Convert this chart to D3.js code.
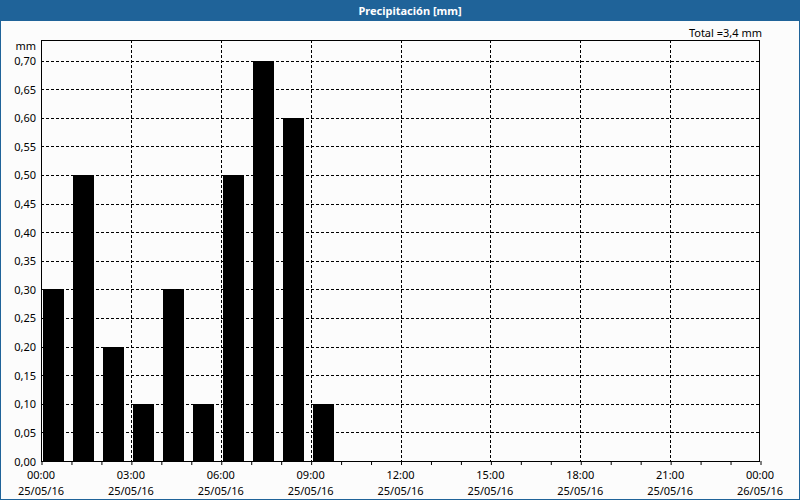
<!DOCTYPE html>
<html>
<head>
<meta charset="utf-8">
<script src="https://cdn.jsdelivr.net/npm/d3@7"></script>
<style>
html,body{margin:0;padding:0;background:#fff;}
svg{display:block;}
text{font-family:"Noto Sans","DejaVu Sans",sans-serif;font-size:11px;fill:#000;}
</style>
</head>
<body>
<script>
const title = "Precipitación [mm]";
const totalLabel = "Total =3,4 mm";
const unitLabel = "mm";
const hours = [0,1,2,3,4,5,6,7,8,9];
const values = [0.3,0.5,0.2,0.1,0.3,0.1,0.5,0.7,0.6,0.1];
const yTicks = [0,0.05,0.10,0.15,0.20,0.25,0.30,0.35,0.40,0.45,0.50,0.55,0.60,0.65,0.70];
const xMajorHours = [0,3,6,9,12,15,18,21,24];
const xTimeLabels = ["00:00","03:00","06:00","09:00","12:00","15:00","18:00","21:00","00:00"];
const xDateLabels = ["25/05/16","25/05/16","25/05/16","25/05/16","25/05/16","25/05/16","25/05/16","25/05/16","26/05/16"];

(function(){
const W = 800, H = 500;
const FONT = "Noto Sans, DejaVu Sans, sans-serif";
const svg = d3.select("body").append("svg").attr("width", W).attr("height", H);

svg.append("rect").attr("x",0).attr("y",0).attr("width",W).attr("height",H).attr("fill","#fcfcfc");
svg.append("rect").attr("x",0.5).attr("y",0.5).attr("width",W-1).attr("height",H-1)
  .attr("fill","none").attr("stroke","#1f6399").attr("stroke-width",1);
svg.append("rect").attr("x",0).attr("y",0).attr("width",W).attr("height",21).attr("fill","#1f6399");
svg.append("text").attr("x",410).attr("y",15).attr("text-anchor","middle")
  .style("font-weight","bold").style("fill","#fff").style("font-size","11px").text(title);

const pl = 41, pr = 760, pt = 40, pb = 461;
const x = d3.scaleLinear().domain([0,24]).range([pl,pr]);
const y = d3.scaleLinear().domain([0,0.70]).range([pb,60.5]);

const g = svg.append("g");

g.selectAll("line.hgrid").data(yTicks.filter(d=>d>0)).join("line")
  .attr("x1",pl).attr("x2",pr)
  .attr("y1",d=>Math.round(y(d))+0.5).attr("y2",d=>Math.round(y(d))+0.5)
  .attr("stroke","#000").attr("stroke-width",1).attr("stroke-dasharray","3,2");
g.selectAll("line.vgrid").data(xMajorHours.filter(d=>d>0 && d<24)).join("line")
  .attr("y1",pt).attr("y2",pb)
  .attr("x1",d=>Math.round(x(d))+0.5).attr("x2",d=>Math.round(x(d))+0.5)
  .attr("stroke","#000").attr("stroke-width",1).attr("stroke-dasharray","3,2");

const hw = x(1)-x(0);
g.selectAll("rect.bar").data(hours).join("rect")
  .attr("x",(d)=>Math.round(x(d)+2))
  .attr("width",Math.round(hw*0.7))
  .attr("y",(d,i)=>Math.round(y(values[i])))
  .attr("height",(d,i)=>pb-Math.round(y(values[i])))
  .attr("fill","#000");

svg.append("rect").attr("x",pl+0.5).attr("y",pt+0.5).attr("width",pr-pl-1).attr("height",pb-pt)
  .attr("fill","none").attr("stroke","#000").attr("stroke-width",1);

const yAxis = d3.axisLeft(y).tickValues(yTicks).tickSize(0).tickPadding(5)
  .tickFormat(d=>d3.format(".2f")(d).replace(".",","));
const ya = svg.append("g").attr("transform",`translate(${pl},0.5)`).call(yAxis);
ya.select(".domain").remove();
ya.selectAll("text").style("font-family",FONT).style("font-size","11px").attr("x",-5);

svg.append("text").attr("x",36).attr("y",50).attr("text-anchor","end").text(unitLabel);
svg.append("text").attr("x",762).attr("y",37).attr("text-anchor","end").text(totalLabel);

const xAxis = d3.axisBottom(x).tickValues(d3.range(0,25)).tickSize(4).tickFormat("");
const xa = svg.append("g").attr("transform",`translate(0.5,${pb})`).call(xAxis);
xa.select(".domain").remove();

const lbl = svg.append("g");
lbl.selectAll("text.t").data(xMajorHours).join("text")
  .attr("x",d=>x(d)).attr("y",479).attr("text-anchor","middle").text((d,i)=>xTimeLabels[i]);
lbl.selectAll("text.d").data(xMajorHours).join("text")
  .attr("x",d=>x(d)).attr("y",495).attr("text-anchor","middle").text((d,i)=>xDateLabels[i]);
})();
</script>
</body>
</html>
